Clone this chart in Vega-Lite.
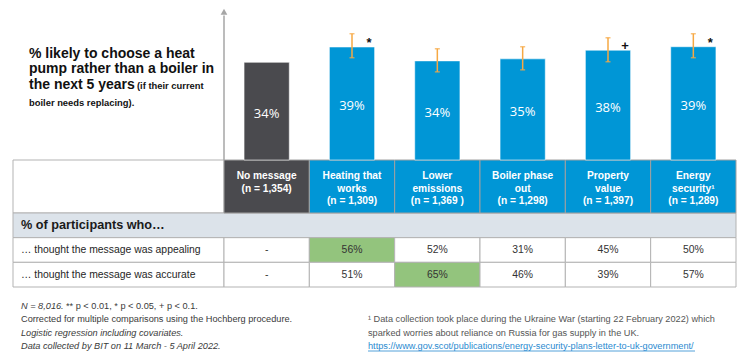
{
"$schema":"https://vega.github.io/schema/vega-lite/v6.json",
"width":747,"height":359,"padding":0,"autosize":{"type":"none"},
"background":"#ffffff",
"config":{"view":{"stroke":null},"font":"Liberation Sans"},
"datasets":{
"messages":[
{"message":"No message","header":"No message\n(n = 1,354)","share":0.338},
{"message":"Heating that works","header":"Heating that\nworks\n(n = 1,309)","share":0.391,"lo":0.354,"hi":0.437,"sig":"*"},
{"message":"Lower emissions","header":"Lower\nemissions\n(n = 1,369 )","share":0.343,"lo":0.305,"hi":0.385},
{"message":"Boiler phase out","header":"Boiler phase\nout\n(n = 1,298)","share":0.35,"lo":0.312,"hi":0.392},
{"message":"Property value","header":"Property\nvalue\n(n = 1,397)","share":0.38,"lo":0.34,"hi":0.423,"sig":"+"},
{"message":"Energy security","header":"Energy\nsecurity¹\n(n = 1,289)","share":0.392,"lo":0.354,"hi":0.437,"sig":"*"}
],
"ratings":[
{"question":"… thought the message was appealing","message":"No message","share":null},
{"question":"… thought the message was appealing","message":"Heating that works","share":0.56},
{"question":"… thought the message was appealing","message":"Lower emissions","share":0.52},
{"question":"… thought the message was appealing","message":"Boiler phase out","share":0.31},
{"question":"… thought the message was appealing","message":"Property value","share":0.45},
{"question":"… thought the message was appealing","message":"Energy security","share":0.50},
{"question":"… thought the message was accurate","message":"No message","share":null},
{"question":"… thought the message was accurate","message":"Heating that works","share":0.51},
{"question":"… thought the message was accurate","message":"Lower emissions","share":0.65},
{"question":"… thought the message was accurate","message":"Boiler phase out","share":0.46},
{"question":"… thought the message was accurate","message":"Property value","share":0.39},
{"question":"… thought the message was accurate","message":"Energy security","share":0.57}
],
"headline":[
{"line":"1","text":"% likely to choose a heat"},
{"line":"2","text":"pump rather than a boiler in"},
{"line":"3","text":"the next 5 years"}
],
"headlineNote":[
{"line":"3","text":"(if their current"},
{"line":"4","text":"boiler needs replacing)."}
],
"notes":[
{"block":"left","line":"1","text":"N = 8,016."},
{"block":"left","line":"1","text":"** p < 0.01, * p < 0.05, + p < 0.1."},
{"block":"left","line":"2","text":"Corrected for multiple comparisons using the Hochberg procedure."},
{"block":"left","line":"3","text":"Logistic regression including covariates."},
{"block":"left","line":"4","text":"Data collected by BIT on 11 March - 5 April 2022."},
{"block":"right","line":"2","text":"¹ Data collection took place during the Ukraine War (starting 22 February 2022) which"},
{"block":"right","line":"3","text":"sparked worries about reliance on Russia for gas supply in the UK."},
{"block":"right","line":"4","text":"https://www.gov.scot/publications/energy-security-plans-letter-to-uk-government/"}
]
},
"layer":[
{
"data":{"values":[{"cell":"corner"}]},
"mark":{"type":"rect","fill":"#ffffff","stroke":"#b3b3b3","strokeWidth":1},
"encoding":{
"x":{"datum":"label","type":"nominal","scale":{"domain":["label"],"range":[13,224],"paddingInner":0,"paddingOuter":0},"axis":null},
"y":{"datum":"header","type":"nominal","scale":{"domain":["header"],"range":[160,213],"paddingInner":0,"paddingOuter":0},"axis":null}
}
},
{
"data":{"values":[{"row":"% of participants who…"}]},
"encoding":{
"y":{"field":"row","type":"nominal","scale":{"domain":["% of participants who…","… thought the message was appealing","… thought the message was accurate"],"range":[213,287],"paddingInner":0,"paddingOuter":0},"axis":null}
},
"layer":[
{"mark":{"type":"rect","fill":"#dce3ea","stroke":"#b3b3b3","strokeWidth":1},
"encoding":{"x":{"datum":"all","type":"nominal","scale":{"domain":["all"],"range":[13,736],"paddingInner":0,"paddingOuter":0},"axis":null}}},
{"mark":{"type":"text","align":"left","baseline":"middle","dx":8,"fontSize":12.7,"fontWeight":"bold","color":"#1a1a1a"},
"encoding":{"x":{"datum":"all","type":"nominal","bandPosition":0},"text":{"field":"row"}}}
]
},
{
"data":{"name":"ratings"},
"transform":[{"filter":"datum.message === 'No message'"}],
"encoding":{
"x":{"datum":"label","type":"nominal","scale":{"domain":["label"],"range":[13,224],"paddingInner":0,"paddingOuter":0},"axis":null},
"y":{"field":"question","type":"nominal","scale":{"domain":["% of participants who…","… thought the message was appealing","… thought the message was accurate"],"range":[213,287],"paddingInner":0,"paddingOuter":0},"axis":null}
},
"layer":[
{"mark":{"type":"rect","fill":"#ffffff","stroke":"#b3b3b3","strokeWidth":1}},
{"mark":{"type":"text","align":"left","baseline":"middle","dx":8,"fontSize":10.4,"color":"#262626"},
"encoding":{"x":{"datum":"label","type":"nominal","bandPosition":0},"text":{"field":"question"}}}
]
},
{
"data":{"name":"ratings"},
"transform":[{"joinaggregate":[{"op":"max","field":"share","as":"top"}],"groupby":["question"]}],
"encoding":{
"x":{"field":"message","type":"nominal","scale":{"domain":["No message","Heating that works","Lower emissions","Boiler phase out","Property value","Energy security"],"range":[224,736],"paddingInner":0,"paddingOuter":0},"axis":null},
"y":{"field":"question","type":"nominal","scale":{"domain":["% of participants who…","… thought the message was appealing","… thought the message was accurate"],"range":[213,287],"paddingInner":0,"paddingOuter":0},"axis":null}
},
"layer":[
{"mark":{"type":"rect","stroke":"#b3b3b3","strokeWidth":1},
"encoding":{"color":{"condition":{"test":"datum.share != null && datum.share === datum.top","value":"#93c47d"},"value":"#ffffff"}}},
{"mark":{"type":"text","baseline":"middle","fontSize":10.4,"color":"#333333"},
"encoding":{"text":{"condition":{"test":"datum.share == null","value":"-"},"field":"share","type":"quantitative","format":".0%"}}}
]
},
{
"data":{"name":"messages"},
"encoding":{
"x":{"field":"message","type":"nominal","sort":null,"scale":{"domain":["No message","Heating that works","Lower emissions","Boiler phase out","Property value","Energy security"],"range":[224,736],"paddingInner":0,"paddingOuter":0},"axis":null},
"y":{"datum":"header","type":"nominal","scale":{"domain":["header"],"range":[160,213],"paddingInner":0,"paddingOuter":0},"axis":null}
},
"layer":[
{"mark":{"type":"rect","stroke":"#a0a0a0","strokeWidth":1},
"encoding":{"color":{"field":"message","type":"nominal","scale":{"domain":["No message","Heating that works","Lower emissions","Boiler phase out","Property value","Energy security"],"range":["#4a4a4e","#0096d6","#0096d6","#0096d6","#0096d6","#0096d6"]},"legend":null}}},
{"mark":{"type":"text","baseline":"top","dy":11,"lineBreak":"\n","lineHeight":12.5,"fontSize":10.2,"fontWeight":"bold","color":"#ffffff"},
"encoding":{"y":{"datum":"header","type":"nominal","bandPosition":0},"text":{"field":"header"}}}
]
},
{
"data":{"name":"messages"},
"encoding":{
"x":{"field":"message","type":"nominal","sort":null,"scale":{"domain":["No message","Heating that works","Lower emissions","Boiler phase out","Property value","Energy security"],"range":[224,736],"paddingInner":0,"paddingOuter":0},"axis":null}
},
"layer":[
{"mark":{"type":"bar","width":{"band":0.53},"stroke":"#ffffff","strokeOpacity":0.55,"strokeWidth":1},
"encoding":{
"y":{"field":"share","type":"quantitative","scale":{"domain":[0,0.526],"range":[160,8],"nice":false,"zero":true},"axis":null},
"color":{"field":"message","type":"nominal","scale":{"domain":["No message","Heating that works","Lower emissions","Boiler phase out","Property value","Energy security"],"range":["#4a4a4e","#0096d6","#0096d6","#0096d6","#0096d6","#0096d6"]},"legend":null}}},
{"transform":[{"calculate":"datum.share / 2","as":"mid"}],
"mark":{"type":"text","font":"Open Sans","fontSize":13,"color":"#ffffff","baseline":"middle","dy":2.5},
"encoding":{"y":{"field":"mid","type":"quantitative"},"text":{"field":"share","type":"quantitative","format":".0%"}}},
{"transform":[{"filter":"isValid(datum.lo)"}],
"mark":{"type":"rule","color":"#f6a843","strokeWidth":1.5},
"encoding":{"y":{"field":"lo","type":"quantitative"},"y2":{"field":"hi"}}},
{"transform":[{"filter":"isValid(datum.lo)"}],
"mark":{"type":"tick","color":"#f6a843","thickness":1.5,"size":5,"orient":"horizontal"},
"encoding":{"y":{"field":"lo","type":"quantitative"}}},
{"transform":[{"filter":"isValid(datum.hi)"}],
"mark":{"type":"tick","color":"#f6a843","thickness":1.5,"size":5,"orient":"horizontal"},
"encoding":{"y":{"field":"hi","type":"quantitative"}}},
{"transform":[{"filter":"isValid(datum.sig)"}],
"mark":{"type":"text","fontSize":13,"fontWeight":"bold","color":"#111111","baseline":"alphabetic","dx":17,"dy":0},
"encoding":{"y":{"field":"share","type":"quantitative"},"text":{"field":"sig"}}},
{"data":{"values":[{"axis":"share"}]},
"mark":{"type":"rule","color":"#a6a6a6","strokeWidth":1.5},
"encoding":{"x":{"datum":"No message","type":"nominal","bandPosition":0},"y":{"datum":0,"type":"quantitative"},"y2":{"datum":0.5}}},
{"data":{"values":[{"axis":"share"}]},
"mark":{"type":"point","shape":"triangle-up","filled":true,"size":45,"color":"#a6a6a6","opacity":1},
"encoding":{"x":{"datum":"No message","type":"nominal","bandPosition":0},"y":{"datum":0.513,"type":"quantitative"}}}
]
},
{
"encoding":{
"x":{"datum":"head","type":"nominal","scale":{"type":"point","domain":["head"],"range":[29,29],"padding":0},"axis":null},
"y":{"field":"line","type":"nominal","scale":{"type":"point","domain":["1","2","3","4"],"range":[57.5,104],"padding":0},"axis":null}
},
"layer":[
{"data":{"name":"headline"},
"mark":{"type":"text","align":"left","baseline":"alphabetic","fontSize":14,"fontWeight":"bold","color":"#111111"},
"encoding":{"text":{"field":"text"}}},
{"data":{"name":"headlineNote"},
"transform":[{"filter":"datum.line === '3'"}],
"mark":{"type":"text","align":"left","baseline":"alphabetic","dx":108,"fontSize":9.4,"fontWeight":"bold","color":"#111111"},
"encoding":{"text":{"field":"text"}}},
{"data":{"name":"headlineNote"},
"transform":[{"filter":"datum.line === '4'"}],
"mark":{"type":"text","align":"left","baseline":"alphabetic","dy":2,"fontSize":9.4,"fontWeight":"bold","color":"#111111"},
"encoding":{"text":{"field":"text"}}}
]
},
{
"data":{"name":"notes"},
"encoding":{
"x":{"field":"block","type":"nominal","scale":{"type":"point","domain":["left","right"],"range":[21,368],"padding":0},"axis":null},
"y":{"field":"line","type":"nominal","scale":{"type":"point","domain":["1","2","3","4"],"range":[305.7,346],"padding":0},"axis":null}
},
"layer":[
{"transform":[{"filter":"datum.block === 'left' && (datum.line === '3' || datum.line === '4' || datum.text === 'N = 8,016.')"}],
"mark":{"type":"text","align":"left","baseline":"middle","fontSize":9.2,"fontStyle":"italic","color":"#3a3a3a"},
"encoding":{"text":{"field":"text"}}},
{"transform":[{"filter":"datum.block === 'left' && datum.line === '2'"}],
"mark":{"type":"text","align":"left","baseline":"middle","fontSize":9.2,"color":"#3a3a3a"},
"encoding":{"text":{"field":"text"}}},
{"transform":[{"filter":"datum.block === 'left' && datum.line === '1' && datum.text !== 'N = 8,016.'"}],
"mark":{"type":"text","align":"left","baseline":"middle","dx":45,"fontSize":9.2,"color":"#3a3a3a"},
"encoding":{"text":{"field":"text"}}},
{"transform":[{"filter":"datum.block === 'right' && datum.line !== '4'"}],
"mark":{"type":"text","align":"left","baseline":"middle","fontSize":9.2,"color":"#555555"},
"encoding":{"text":{"field":"text"}}},
{"transform":[{"filter":"datum.block === 'right' && datum.line === '4'"}],
"mark":{"type":"text","align":"left","baseline":"middle","fontSize":9.2,"color":"#2a8ad0"},
"encoding":{"text":{"field":"text"}}},
{"transform":[{"filter":"datum.block === 'right' && datum.line === '4'"}],
"mark":{"type":"rule","color":"#2a8ad0","strokeWidth":0.8,"x2Offset":327,"yOffset":5,"y2Offset":5},
"encoding":{"x2":{"field":"block"}}}
]
}
],
"resolve":{"scale":{"x":"independent","y":"independent","color":"independent"}}
}
